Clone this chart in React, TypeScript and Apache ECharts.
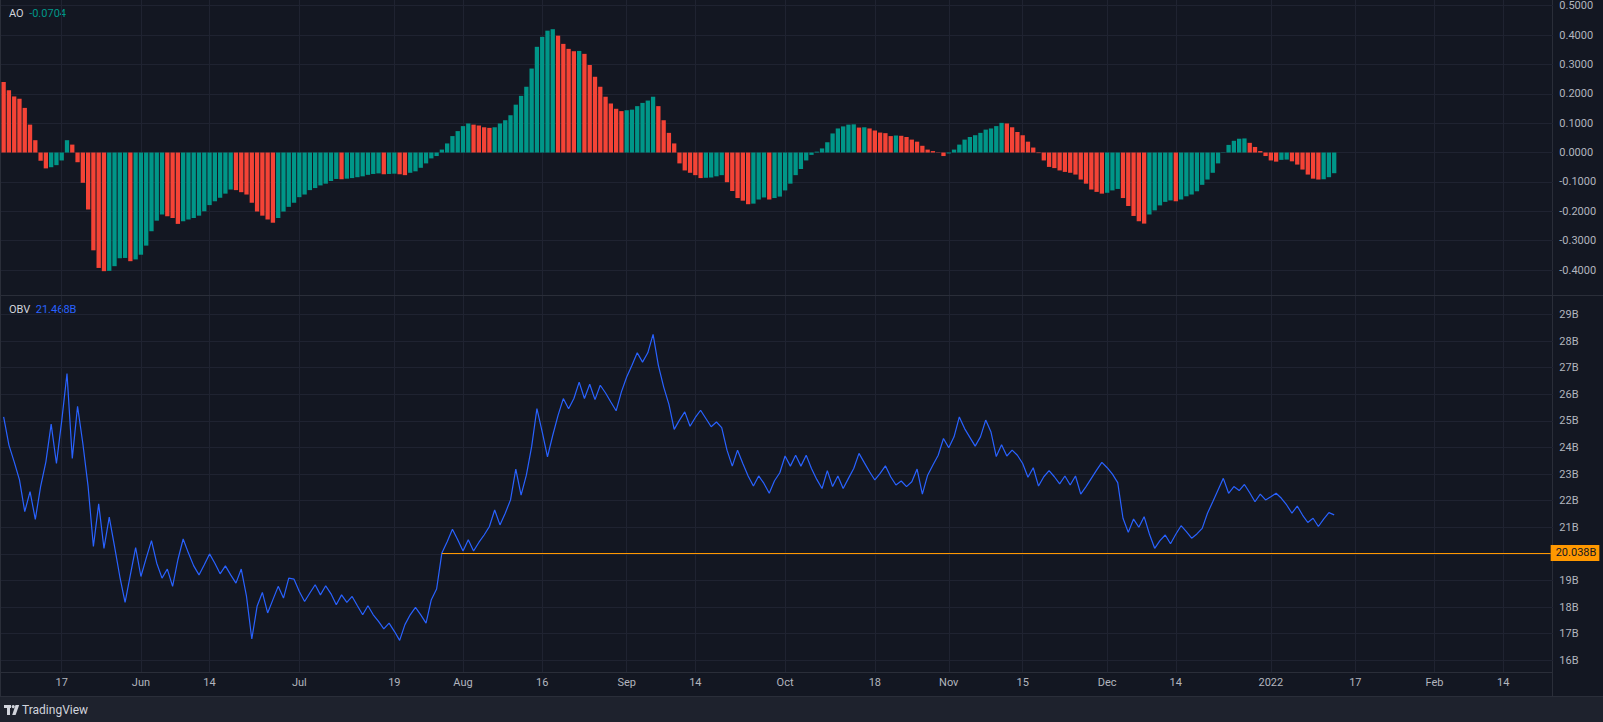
import React, { useEffect, useRef } from 'react';
import * as echarts from 'echarts';

// ---------- data ----------
const startDate = '2021-05-06';
const dayCount = 294; // visible daily slots on the time axis

const tickDates = ['2021-05-17', '2021-06-01', '2021-06-14', '2021-07-01', '2021-07-19', '2021-08-01', '2021-08-16', '2021-09-01', '2021-09-14', '2021-10-01', '2021-10-18', '2021-11-01', '2021-11-15', '2021-12-01', '2021-12-14', '2022-01-01', '2022-01-17', '2022-02-01', '2022-02-14'];
const tickLabels = ['17', 'Jun', '14', 'Jul', '19', 'Aug', '16', 'Sep', '14', 'Oct', '18', 'Nov', '15', 'Dec', '14', '2022', '17', 'Feb', '14'];

// Awesome Oscillator (daily)
const ao = [
  0.240, 0.212, 0.191, 0.183, 0.152, 0.095, 0.042, -0.028, -0.054, -0.050,
  -0.043, -0.027, 0.042, 0.027, -0.033, -0.103, -0.194, -0.333, -0.393, -0.404,
  -0.403, -0.387, -0.360, -0.359, -0.370, -0.364, -0.348, -0.317, -0.268, -0.232,
  -0.211, -0.217, -0.223, -0.243, -0.234, -0.228, -0.223, -0.215, -0.200, -0.179,
  -0.166, -0.154, -0.140, -0.126, -0.128, -0.135, -0.143, -0.171, -0.201, -0.215,
  -0.228, -0.239, -0.223, -0.201, -0.185, -0.171, -0.152, -0.143, -0.128, -0.121,
  -0.112, -0.106, -0.097, -0.090, -0.091, -0.089, -0.087, -0.084, -0.081, -0.076,
  -0.073, -0.071, -0.074, -0.073, -0.072, -0.074, -0.077, -0.069, -0.064, -0.052,
  -0.037, -0.020, -0.012, 0.010, 0.031, 0.056, 0.073, 0.090, 0.099, 0.095,
  0.092, 0.086, 0.084, 0.086, 0.099, 0.110, 0.127, 0.163, 0.193, 0.224,
  0.286, 0.360, 0.394, 0.415, 0.420, 0.398, 0.370, 0.353, 0.345, 0.346,
  0.336, 0.298, 0.258, 0.224, 0.190, 0.167, 0.149, 0.141, 0.144, 0.146,
  0.158, 0.169, 0.177, 0.190, 0.158, 0.110, 0.067, 0.031, -0.037, -0.061,
  -0.069, -0.077, -0.087, -0.086, -0.085, -0.081, -0.077, -0.101, -0.131, -0.155,
  -0.164, -0.176, -0.174, -0.160, -0.153, -0.160, -0.155, -0.150, -0.129, -0.106,
  -0.077, -0.056, -0.027, -0.008, 0.003, 0.014, 0.035, 0.065, 0.082, 0.089,
  0.095, 0.096, 0.085, 0.086, 0.082, 0.075, 0.068, 0.066, 0.056, 0.058,
  0.057, 0.053, 0.044, 0.037, 0.023, 0.010, 0.005, 0.001, -0.012, -0.003,
  0.010, 0.027, 0.044, 0.053, 0.059, 0.067, 0.078, 0.082, 0.090, 0.101,
  0.099, 0.086, 0.070, 0.059, 0.037, 0.017, -0.002, -0.027, -0.049, -0.053,
  -0.061, -0.066, -0.069, -0.075, -0.092, -0.106, -0.126, -0.134, -0.140, -0.137,
  -0.129, -0.124, -0.155, -0.182, -0.216, -0.234, -0.242, -0.211, -0.197, -0.180,
  -0.168, -0.163, -0.166, -0.160, -0.149, -0.143, -0.132, -0.110, -0.092, -0.069,
  -0.037, 0.001, 0.026, 0.040, 0.047, 0.048, 0.033, 0.019, 0.005, -0.012,
  -0.027, -0.031, -0.025, -0.024, -0.030, -0.041, -0.058, -0.075, -0.089, -0.092,
  -0.091, -0.084, -0.0704,
];

// bar colouring as drawn: G = growing, R = falling
const aoColor = [
  'RRRRRRRRRG', 'GGGRRRRRRR', 'GGGGRGGGGG', 'GRRRGGGGGG', 'GGGGRRRRRR',
  'RRGGGGGGGG', 'GGGGRGGGGG', 'GGRGGRRGGG', 'GGGGGGGGGR', 'RRRGGGGGGG',
  'GGGGGRRRRG', 'RRRRRRRRGG', 'GGGGRRRRRR', 'RRRGGGGRRR', 'RRGGGRGGGG',
  'GGGGGGGGGG', 'GGRGRRRRRG', 'RRRRRRRRRG', 'GGGGGGGGGG', 'RRRRRRRRRR',
  'RRRRRRRRRG', 'GGRRRRRGGG', 'GGRGGGGGGG', 'GGGGGGRRRR', 'RRGGRRRRRR',
  'GGG',
].join('');

// On Balance Volume, billions
const obv = [
  25.15, 24.09, 23.46, 22.78, 21.59, 22.34, 21.30, 22.53, 23.46, 24.88,
  23.40, 25.00, 26.78, 23.59, 25.55, 24.15, 22.53, 20.28, 21.88, 20.21,
  21.38, 20.28, 19.15, 18.18, 19.21, 20.24, 19.15, 19.84, 20.50, 19.65,
  19.09, 19.43, 18.78, 19.78, 20.56, 20.03, 19.55, 19.21, 19.59, 20.00,
  19.65, 19.25, 19.55, 19.21, 18.90, 19.43, 18.40, 16.80, 18.03, 18.55,
  17.78, 18.28, 18.78, 18.34, 19.09, 19.05, 18.59, 18.21, 18.53, 18.84,
  18.46, 18.80, 18.50, 18.09, 18.46, 18.18, 18.40, 18.05, 17.71, 18.05,
  17.71, 17.46, 17.18, 17.40, 17.09, 16.75, 17.34, 17.71, 17.99, 17.71,
  17.40, 18.28, 18.68, 20.038, 20.46, 20.93, 20.53, 20.11, 20.53, 20.11,
  20.43, 20.71, 21.03, 21.65, 21.09, 21.53, 22.03, 23.19, 22.21, 22.96,
  24.03, 25.46, 24.59, 23.65, 24.46, 25.21, 25.84, 25.46, 25.84, 26.46,
  25.84, 26.38, 25.80, 26.34, 26.05, 25.71, 25.38, 26.09, 26.65, 27.09,
  27.56, 27.21, 27.56, 28.25, 27.09, 26.28, 25.62, 24.68, 25.03, 25.34,
  24.80, 25.13, 25.40, 25.09, 24.78, 24.96, 24.75, 23.90, 23.30, 23.90,
  23.40, 22.93, 22.55, 22.93, 22.65, 22.28, 22.75, 23.05, 23.68, 23.30,
  23.71, 23.30, 23.71, 23.21, 22.80, 22.46, 23.13, 22.53, 22.93, 22.46,
  22.84, 23.21, 23.78, 23.43, 23.09, 22.78, 23.03, 23.31, 22.90, 22.59,
  22.74, 22.53, 22.71, 23.19, 22.25, 22.96, 23.34, 23.71, 24.34, 23.99,
  24.40, 25.15, 24.71, 24.38, 24.05, 24.40, 25.03, 24.58, 23.66, 24.10,
  23.68, 23.90, 23.71, 23.40, 22.88, 23.24, 22.55, 22.90, 23.13, 22.90,
  22.63, 22.93, 22.59, 22.93, 22.25, 22.53, 22.84, 23.15, 23.44, 23.24,
  23.00, 22.68, 21.34, 20.81, 21.31, 21.00, 21.40, 20.75, 20.21, 20.50,
  20.71, 20.38, 20.74, 21.06, 20.84, 20.59, 20.75, 20.96, 21.53, 21.96,
  22.40, 22.84, 22.28, 22.53, 22.38, 22.61, 22.30, 21.96, 22.25, 22.03,
  22.15, 22.28, 22.09, 21.84, 21.53, 21.80, 21.46, 21.18, 21.34, 21.03,
  21.31, 21.55, 21.468,
];

// horizontal ray drawn on the OBV pane
const levelStartDate = '2021-07-28';
const levelValue = 20.038;

// ---------- style ----------
const FONT = "Roboto, 'Liberation Sans', sans-serif";
const FS = 11;
const BG = '#131722';
const GRID_C = '#1f2331';
const BORDER_C = '#2a2e39';
const TEXT_C = '#b2b5be';
const LEGEND_C = '#d1d4dc';
const GREEN = '#009688';
const RED = '#f44336';
const BLUE = '#2962ff';
const ORANGE = '#ff9800';
const DAY_PX = 5.28;

function buildCats(): string[] {
  const [y, m, d] = startDate.split('-').map(Number);
  const out: string[] = [];
  for (let i = 0; i < dayCount; i++) {
    out.push(new Date(Date.UTC(y, m - 1, d + i)).toISOString().slice(0, 10));
  }
  return out;
}

const fmtAO = (v: number) => (v < -1e-9 ? '-' : '') + Math.abs(v).toFixed(4);

export default function App() {
  const ref = useRef<HTMLDivElement>(null);
  useEffect(() => {
    const el = ref.current as HTMLDivElement;
    const chart = echarts.init(el, null, { renderer: 'svg' });
    const cats = buildCats();
    const tickMap = new Map<string, string>(tickDates.map((d, i) => [d, tickLabels[i]]));
    const isTick = (_i: number, v: string) => tickMap.has(v);
    const W = dayCount * DAY_PX;
    const L = 1;

    const gridBase = { left: L, width: W, containLabel: false, outerBoundsMode: 'none' } as any;
    const hiddenCat = (gi: number, split: boolean) => ({
      type: 'category', gridIndex: gi, data: cats, boundaryGap: true,
      axisLine: { show: false }, axisTick: { show: false }, axisLabel: { show: false },
      splitLine: split ? { show: true, interval: isTick, alignWithLabel: true, lineStyle: { color: GRID_C, width: 1 } } : { show: false },
      axisPointer: { show: false },
    });

    const legendRich = (valueColor: string) => ({
      n: { fill: LEGEND_C, color: LEGEND_C, fontSize: FS, fontFamily: FONT },
      v: { fill: valueColor, color: valueColor, fontSize: FS, fontFamily: FONT },
    });

    const option: any = {
      animation: false,
      backgroundColor: BG,
      textStyle: { fontFamily: FONT },
      grid: [
        { ...gridBase, top: 5.7, height: 264.3 },
        { ...gridBase, top: 314.5, height: 345.8 },
        { ...gridBase, top: 0, height: 295 },
        { ...gridBase, top: 296, height: 376 },
      ],
      xAxis: [
        hiddenCat(0, false),
        {
          type: 'category', gridIndex: 1, data: cats, boundaryGap: true, offset: 11.7,
          axisLine: { show: false }, axisTick: { show: false },
          axisLabel: {
            show: true, interval: isTick, formatter: (v: string) => tickMap.get(v) || '',
            color: TEXT_C, fontSize: FS, fontFamily: FONT, margin: 5,
          },
          splitLine: { show: false },
        },
        hiddenCat(2, true),
        hiddenCat(3, true),
      ],
      yAxis: [
        {
          type: 'value', gridIndex: 0, position: 'right', min: -0.4, max: 0.5, interval: 0.1,
          axisLine: { show: false }, axisTick: { show: false },
          axisLabel: { color: TEXT_C, fontSize: FS, fontFamily: FONT, margin: 6, formatter: fmtAO },
          splitLine: { show: true, lineStyle: { color: GRID_C, width: 1 } },
        },
        {
          type: 'value', gridIndex: 1, position: 'right', min: 16, max: 29, interval: 1,
          axisLine: { show: false }, axisTick: { show: false },
          axisLabel: {
            color: TEXT_C, fontSize: FS, fontFamily: FONT, margin: 6,
            formatter: (v: number) => (Math.abs(v - levelValue) < 0.5 ? '' : `${v}B`),
          },
          splitLine: { show: true, lineStyle: { color: GRID_C, width: 1 } },
        },
        { type: 'value', gridIndex: 2, min: 0, max: 1, show: false, splitLine: { show: false } },
        { type: 'value', gridIndex: 3, min: 0, max: 1, show: false, splitLine: { show: false } },
      ],
      series: [
        {
          type: 'bar', xAxisIndex: 0, yAxisIndex: 0, data: ao, barWidth: 4.3, clip: false, silent: true,
          itemStyle: { color: (p: any) => (aoColor[p.dataIndex] === 'G' ? GREEN : RED) },
        },
        {
          type: 'line', xAxisIndex: 1, yAxisIndex: 1, data: obv, symbol: 'none', silent: true,
          lineStyle: { color: BLUE, width: 1.2 },
          markLine: {
            silent: true, symbol: ['none', 'none'],
            lineStyle: { color: ORANGE, width: 1, type: 'solid' },
            label: {
              show: true, position: 'end', distance: 0,
              formatter: `${levelValue.toFixed(3)}B`,
              backgroundColor: ORANGE, color: BG, fontSize: FS, fontFamily: FONT,
              padding: [3, 3, 2, 5],
            },
            data: [[{ coord: [levelStartDate, levelValue] }, { coord: [cats[cats.length - 1], levelValue] }]],
          },
        },
      ],
      graphic: [
        // bottom toolbar strip
        { type: 'rect', shape: { x: 0, y: 697, width: 1603, height: 25 }, style: { fill: '#1e222d' }, silent: true },
        // separators
        { type: 'line', shape: { x1: 1552.5, y1: 0, x2: 1552.5, y2: 697 }, style: { stroke: BORDER_C, lineWidth: 1 }, silent: true },
        { type: 'line', shape: { x1: 0, y1: 295.5, x2: 1603, y2: 295.5 }, style: { stroke: BORDER_C, lineWidth: 1 }, silent: true },
        { type: 'line', shape: { x1: 0, y1: 672.5, x2: 1552.5, y2: 672.5 }, style: { stroke: BORDER_C, lineWidth: 1 }, silent: true },
        { type: 'line', shape: { x1: 0.5, y1: 0, x2: 0.5, y2: 697 }, style: { stroke: BORDER_C, lineWidth: 1 }, silent: true },
        { type: 'line', shape: { x1: 0, y1: 696.5, x2: 1603, y2: 696.5 }, style: { stroke: BORDER_C, lineWidth: 1 }, silent: true },
        // pane legends
        {
          type: 'text', x: 9, y: 13, silent: true,
          style: { text: `{n|AO}  {v|${fmtAO(ao[ao.length - 1])}}`, rich: legendRich(GREEN), fontSize: FS, fontFamily: FONT, verticalAlign: 'middle' },
        },
        {
          type: 'text', x: 9, y: 309, silent: true,
          style: { text: `{n|OBV}  {v|${obv[obv.length - 1].toFixed(3)}B}`, rich: legendRich(BLUE), fontSize: FS, fontFamily: FONT, verticalAlign: 'middle' },
        },
        // TradingView logo
        { type: 'rect', shape: { x: 4, y: 705, width: 7, height: 3 }, style: { fill: LEGEND_C }, silent: true },
        { type: 'rect', shape: { x: 7, y: 705, width: 3, height: 10 }, style: { fill: LEGEND_C }, silent: true },
        { type: 'circle', shape: { cx: 13.2, cy: 706.6, r: 1.6 }, style: { fill: LEGEND_C }, silent: true },
        { type: 'polygon', shape: { points: [[15.5, 705], [19.2, 705], [15.6, 715], [12.2, 715]] }, style: { fill: LEGEND_C }, silent: true },
        { type: 'text', x: 22, y: 710, style: { text: 'TradingView', fill: LEGEND_C, fontSize: 12, fontFamily: FONT, verticalAlign: 'middle' }, silent: true },
      ],
    };

    chart.setOption(option);
    return () => chart.dispose();
  }, []);

  return <div ref={ref} style={{ position: 'fixed', left: 0, top: 0, width: 1603, height: 722 }} />;
}
